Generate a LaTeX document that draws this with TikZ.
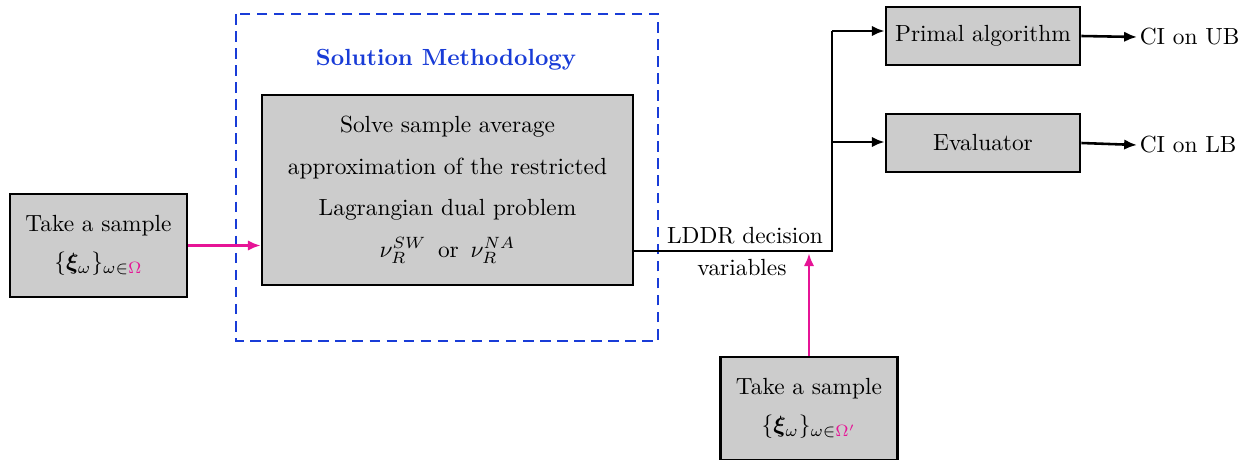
\documentclass[tikz,border=0pt]{standalone}
\usepackage{amsmath,bm}
\usetikzlibrary{arrows.meta}
\definecolor{pk}{RGB}{230,20,150}
\definecolor{bl}{RGB}{25,60,215}
\def\pxu{0.428pt}
\tikzset{
  gbox/.style={draw=black, line width=1.1pt, fill=black!20, inner sep=0pt, align=center},
  conn/.style={line width=1.1pt, -{Latex[length=5.5pt,width=4.5pt]}},
  pconn/.style={line width=1.1pt, draw=pk, -{Latex[length=5.5pt,width=4.5pt]}},
  plain/.style={inner sep=1pt},
}
\begin{document}
\begin{tikzpicture}[x=\pxu,y=-\pxu]
\useasboundingbox (0,0) rectangle (1245,460);
% dashed frame
\draw[bl, line width=1.1pt, dash pattern=on 4.5pt off 2.8pt] (236,14) rectangle (658,341);
\node[plain, text=bl, font=\bfseries] (title) at (446,60) {Solution Methodology};
% boxes
\node[gbox, minimum width=177*\pxu, minimum height=103*\pxu] (left) at (98.5,245.5)
  {Take a sample\\[4.2pt] $\{\bm{\xi}_\omega\}_{\omega\in\textcolor{pk}{\Omega}}$};
\node[gbox, minimum width=371*\pxu, minimum height=190*\pxu] (main) at (447.5,190)
  {Solve sample average\\[5.8pt] approximation of the restricted\\[5.8pt] Lagrangian dual problem\\[5.8pt] $\nu_R^{SW}$ \,or\, $\nu_R^{NA}$};
\node[gbox, minimum width=177*\pxu, minimum height=103*\pxu] (bot) at (809,408.5)
  {Take a sample\\[4.2pt] $\{\bm{\xi}_\omega\}_{\omega\in\textcolor{pk}{\Omega'}}$};
\node[gbox, minimum width=194*\pxu, minimum height=58*\pxu] (primal) at (983,36) {Primal algorithm};
\node[gbox, minimum width=194*\pxu, minimum height=58*\pxu] (eval) at (983,143) {Evaluator};
\node[plain, anchor=west] (ub) at (1137,37) {CI on UB};
\node[plain, anchor=west] (lb) at (1137,145) {CI on LB};
\node[plain] (l1) at (745,236) {LDDR decision};
\node[plain] (l2) at (742,268) {variables};
% junctions
\coordinate (j) at (832,251);
\coordinate (j1) at (832,31);
\coordinate (j2) at (832,142);
\coordinate (jl) at (633,251);
% connectors
\draw[pconn] (left) -- (main.west |- left);
\draw[line width=1.1pt] (jl) -- (j) -- (j1);
\draw[conn] (j1) -- (primal.west |- j1);
\draw[conn] (j2) -- (eval.west |- j2);
\draw[conn] (primal.east) -- (ub.west);
\draw[conn] (eval.east) -- (lb.west);
\draw[pconn] (bot.north) -- ([yshift=-1pt]bot.north |- j);
\end{tikzpicture}
\end{document}
